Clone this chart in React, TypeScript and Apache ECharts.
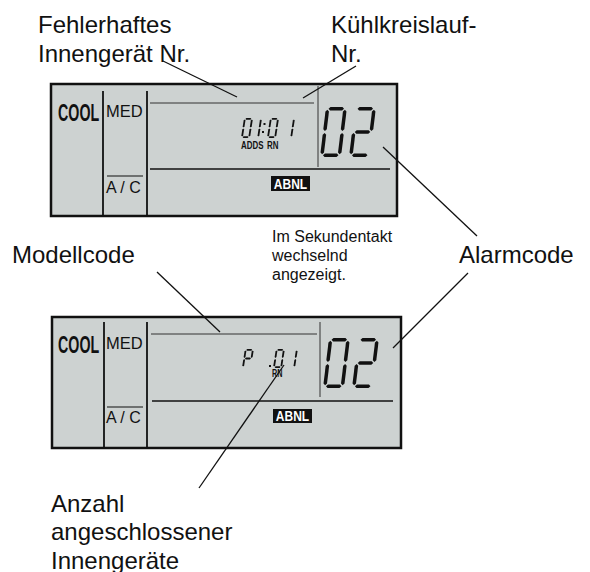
import React, { useEffect, useRef } from "react";
import * as echarts from "echarts";

// ---- content (texts and display codes) ----
const topLeftLabel = ["Fehlerhaftes", "Innengerät Nr."];
const topRightLabel = ["Kühlkreislauf-", "Nr."];
const modelLabel = ["Modellcode"];
const alarmLabel = ["Alarmcode"];
const noteLabel = ["Im Sekundentakt", "wechselnd", "angezeigt."];
const countLabel = ["Anzahl", "angeschlossener", "Innengeräte"];
const modeTexts = ["COOL", "MED", "A / C", "ABNL"];
const addrTags = ["ADDS", "RN"];
const panel1Small = ["0", "1", ":", "0", "1"];
const panel2Small = ["P", ".", "0", "1"];
const alarmCode = ["0", "2"];

const FONT = '"Liberation Sans", Arial, sans-serif';
const INK = "#111";
const LCD = "#cdd2d1";

const SEGMENTS: Record<string, string> = {
  "0": "abcdef",
  "1": "bc",
  "2": "abged",
  P: "abefg",
};

function digit(ch: string, x: number, y: number, w: number, h: number, t: number, slant: number, gap: number) {
  const tf = (p: number[]) => [x + p[0] + slant * (h - p[1]), y + p[1]];
  const hor = (cy: number) => {
    const x1 = t / 2 + gap;
    const x2 = w - t / 2 - gap;
    return [
      [x1, cy], [x1 + t / 2, cy - t / 2], [x2 - t / 2, cy - t / 2],
      [x2, cy], [x2 - t / 2, cy + t / 2], [x1 + t / 2, cy + t / 2],
    ].map(tf);
  };
  const ver = (cx: number, y1: number, y2: number) =>
    [
      [cx, y1], [cx + t / 2, y1 + t / 2], [cx + t / 2, y2 - t / 2],
      [cx, y2], [cx - t / 2, y2 - t / 2], [cx - t / 2, y1 + t / 2],
    ].map(tf);
  const segs: Record<string, number[][]> = {
    a: hor(t / 2),
    g: hor(h / 2),
    d: hor(h - t / 2),
    f: ver(t / 2, t / 2 + gap, h / 2 - gap),
    b: ver(w - t / 2, t / 2 + gap, h / 2 - gap),
    e: ver(t / 2, h / 2 + gap, h - t / 2 - gap),
    c: ver(w - t / 2, h / 2 + gap, h - t / 2 - gap),
  };
  return (SEGMENTS[ch] || "").split("").map((s) => ({
    type: "polygon",
    shape: { points: segs[s] },
    style: { fill: INK },
  }));
}

function dotMark(x: number, y: number, s: number) {
  return { type: "rect", shape: { x: x - s / 2, y: y - s / 2, width: s, height: s }, style: { fill: INK } };
}

function line(x1: number, y1: number, x2: number, y2: number, lw = 1.3, color = INK) {
  return { type: "line", shape: { x1, y1, x2, y2 }, style: { stroke: color, lineWidth: lw } };
}

function text(str: string, x: number, y: number, size: number, opts: any = {}) {
  const { weight = "normal", align = "left", fill = INK, scaleX = 1 } = opts;
  return {
    type: "text",
    x,
    y,
    scaleX,
    style: {
      text: str,
      fontSize: size,
      fontFamily: FONT,
      fontWeight: weight,
      fill,
      align,
      verticalAlign: "middle",
      textAlign: align,
      textVerticalAlign: "middle",
    },
  };
}

function panelRect(ox: number, oy: number, w: number, h: number) {
  return {
    type: "rect",
    shape: { x: ox, y: oy, width: w, height: h },
    style: { fill: LCD, stroke: INK, lineWidth: 2.5 },
  };
}

function buildGraphics() {
  const g: any[] = [];

  // outer labels
  topLeftLabel.forEach((s, i) => g.push(text(s, 38, 24 + i * 29, 24)));
  topRightLabel.forEach((s, i) => g.push(text(s, 331, 24 + i * 29, 24)));
  modelLabel.forEach((s) => g.push(text(s, 12, 254, 24)));
  alarmLabel.forEach((s) => g.push(text(s, 459, 254, 24)));
  noteLabel.forEach((s, i) => g.push(text(s, 272, 236 + i * 19, 16)));
  countLabel.forEach((s, i) => g.push(text(s, 51, 503 + i * 28.5, 24)));

  // ---- panel 1 ----
  g.push(panelRect(51, 84, 346, 132));
  g.push(line(103, 91, 103, 216, 1.8));
  g.push(line(147, 91, 147, 216, 1.8));
  g.push(line(107, 176, 143, 176, 1.2));
  g.push(line(150, 103, 314, 103, 1, "#333"));
  g.push(line(318, 86, 318, 167, 1, "#333"));
  g.push(line(150, 169, 390, 169, 1.5));
  g.push(text(modeTexts[0], 58, 113, 23, { weight: "bold", scaleX: 0.62 }));
  g.push(text(modeTexts[1], 106, 111, 16.5));
  g.push(text(modeTexts[2], 106, 187, 16));
  g.push({ type: "rect", shape: { x: 271, y: 176, width: 39, height: 15 }, style: { fill: INK } });
  g.push(text(modeTexts[3], 290.5, 184, 15, { weight: "bold", align: "center", fill: "#fff", scaleX: 0.8 }));
  g.push(text(addrTags[0], 241, 145, 11, { weight: "bold", scaleX: 0.72 }));
  g.push(text(addrTags[1], 267, 145, 11, { weight: "bold", scaleX: 0.72 }));

  const smallX1 = [241, 250, 263, 267, 283];
  panel1Small.forEach((ch, i) => {
    if (ch === ":") {
      g.push(dotMark(smallX1[i] + 1.5, 124, 2));
      g.push(dotMark(smallX1[i], 132, 2));
    } else {
      g.push(...digit(ch, smallX1[i], 118, 9, 20, 1.8, 0.15, 0.6));
    }
  });
  const bigX1 = [320, 349];
  alarmCode.forEach((ch, i) => g.push(...digit(ch, bigX1[i], 107, 21, 50, 3.5, 0.12, 1)));

  // ---- panel 2 ----
  g.push(panelRect(52, 317, 349, 131));
  g.push(line(104, 322, 104, 448, 1.8));
  g.push(line(147, 322, 147, 448, 1.8));
  g.push(line(107, 407, 143, 407, 1.2));
  g.push(line(151, 334, 317, 334, 1, "#333"));
  g.push(line(320, 322, 320, 397, 1, "#333"));
  g.push(line(152, 401, 393, 401, 1.5));
  g.push(text(modeTexts[0], 58, 345, 23, { weight: "bold", scaleX: 0.62 }));
  g.push(text(modeTexts[1], 106, 343, 16.5));
  g.push(text(modeTexts[2], 106, 417, 16));
  g.push({ type: "rect", shape: { x: 273, y: 409, width: 39, height: 14 }, style: { fill: INK } });
  g.push(text(modeTexts[3], 292.5, 416.5, 15, { weight: "bold", align: "center", fill: "#fff", scaleX: 0.8 }));
  g.push(text(addrTags[1], 272, 374, 10, { weight: "bold", scaleX: 0.72 }));

  const smallX2 = [242, 270, 273, 286];
  panel2Small.forEach((ch, i) => {
    if (ch === ".") {
      g.push(dotMark(smallX2[i], 366, 2));
    } else {
      g.push(...digit(ch, smallX2[i], 349, 9, 19, 1.8, 0.15, 0.6));
    }
  });
  const bigX2 = [323, 352];
  alarmCode.forEach((ch, i) => g.push(...digit(ch, bigX2[i], 338, 21, 50, 3.5, 0.12, 1)));

  // ---- leader lines ----
  g.push(line(163, 61, 237, 97));
  g.push(line(356, 66, 303, 98));
  g.push(line(383, 147, 477, 236));
  g.push(line(468, 273, 393, 348));
  g.push(line(157, 272, 220, 332));
  g.push(line(284, 365, 199, 488));

  return g;
}

export default function App() {
  const ref = useRef<HTMLDivElement>(null);
  useEffect(() => {
    document.body.style.margin = "0";
    const chart = echarts.init(ref.current!, null, { renderer: "svg" });
    chart.setOption({
      animation: false,
      backgroundColor: "#ffffff",
      graphic: { elements: buildGraphics() },
    });
    return () => chart.dispose();
  }, []);
  return <div ref={ref} style={{ position: "absolute", left: 0, top: 0, width: 590, height: 572 }} />;
}
